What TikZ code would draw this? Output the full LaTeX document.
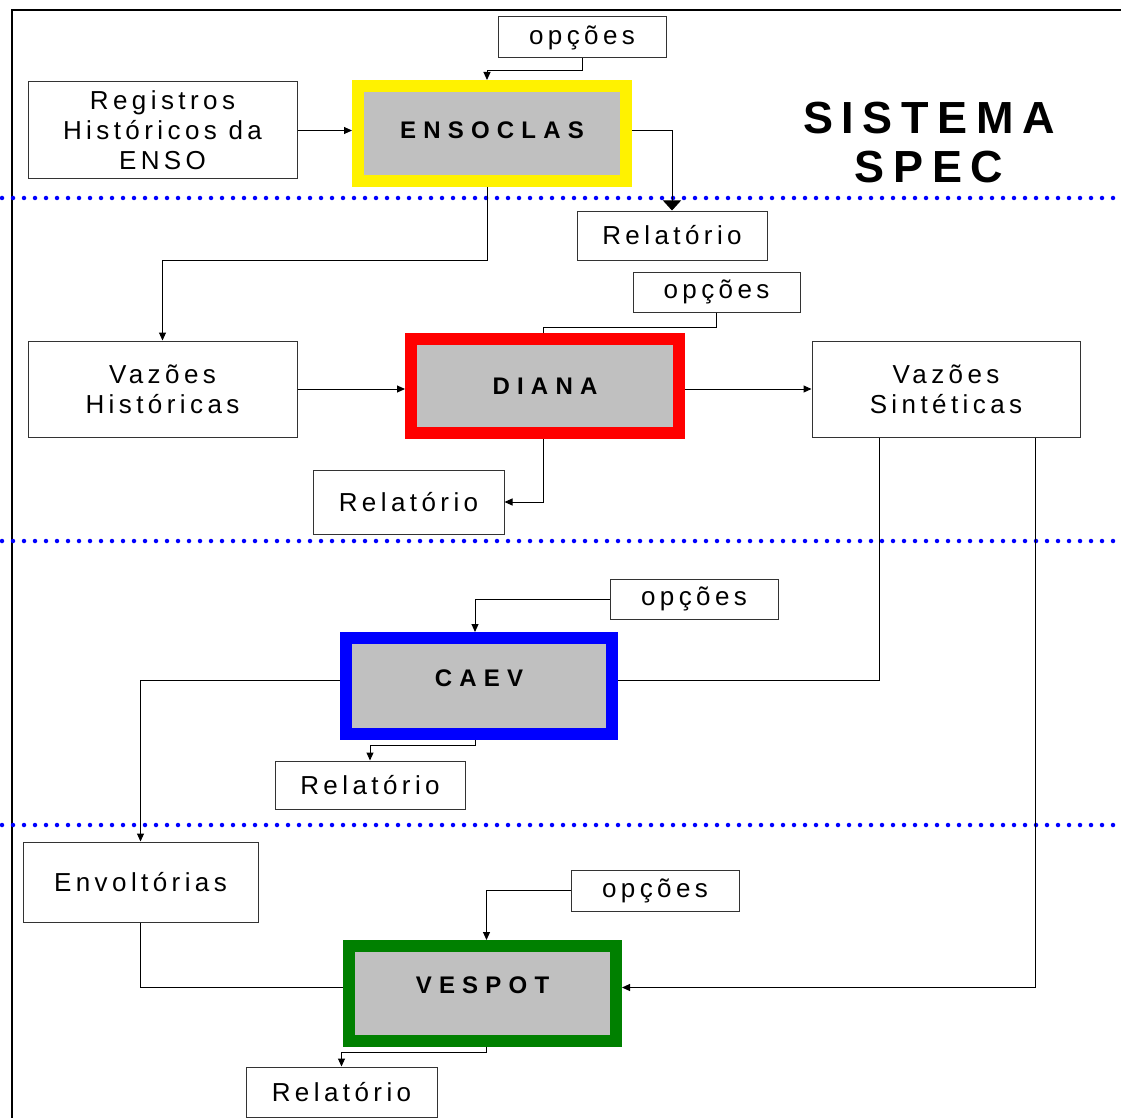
\documentclass[tikz,border=0pt]{standalone}
\usepackage{fontspec}
\setmainfont{Liberation Sans}
\newfontfamily\boxfont[LetterSpace=17]{Liberation Sans}
\newfontfamily\progfont[LetterSpace=30]{Liberation Sans}
\newfontfamily\titlefont[LetterSpace=19]{Liberation Sans}
\usetikzlibrary{arrows.meta}
\definecolor{cinza}{RGB}{192,192,192}
\definecolor{verde}{RGB}{0,128,0}
\begin{document}
\begin{tikzpicture}[x=1pt, y=-1pt, >={Triangle[length=8pt,width=7pt]},
	caixa/.style={draw=black!80, line width=1pt, inner sep=0pt, align=center, font=\boxfont\fontsize{26}{30}\selectfont},
	prog/.style={draw=#1, line width=12pt, fill=cinza, inner sep=0pt, font=\progfont\bfseries\fontsize{24}{28}\selectfont},
	fio/.style={line width=1pt},
	pontos/.style={blue, line width=4.5pt, line cap=round, dash pattern=on 0pt off 11pt}]
	\useasboundingbox (0,0) rectangle (1121,1118);
	\draw[line width=2pt] (12,1118)--(12,10)--(1121,10);
	\foreach \y in {198,541,825} \draw[pontos] (2,\y)--(1121,\y);
	% programas
	\node[prog=yellow, minimum width=268, minimum height=95, text depth=7pt] (ensoclas) at (492,133.5) {ENSOCLAS};
	\node[prog=red, minimum width=268, minimum height=94] (diana) at (545,386) {DIANA};
	\node[prog=blue, minimum width=266, minimum height=96, text depth=16pt] (caev) at (479,686) {CAEV};
	\node[prog=verde, minimum width=267, minimum height=95, text depth=17pt] (vespot) at (482.5,993.5) {VESPOT};
	% caixas
	\node[caixa, minimum width=168, minimum height=41] (opA) at (582,37.5) {opções};
	\node[caixa, minimum width=269, minimum height=97] (reg) at (162.5,130.5) {Registros\\Históricos da\\ENSO};
	\node[caixa, minimum width=190, minimum height=49] (relA) at (672,235.5) {Relatório};
	\node[caixa, minimum width=167, minimum height=40] (opB) at (716.5,292) {opções};
	\node[caixa, minimum width=269, minimum height=96] (vh) at (162.5,389) {Vazões\\Históricas};
	\node[caixa, minimum width=268, minimum height=96] (vs) at (946,389) {Vazões\\Sintéticas};
	\node[caixa, minimum width=191, minimum height=64] (relB) at (408.5,502) {Relatório};
	\node[caixa, minimum width=168, minimum height=40] (opC) at (694,599) {opções};
	\node[caixa, minimum width=190, minimum height=48] (relC) at (370,785) {Relatório};
	\node[caixa, minimum width=235, minimum height=80] (env) at (140.5,882) {Envoltórias};
	\node[caixa, minimum width=168, minimum height=41] (opD) at (655,890.5) {opções};
	\node[caixa, minimum width=191, minimum height=50] (relD) at (341.5,1092) {Relatório};
	\node[font=\titlefont\bfseries\fontsize{45}{49}\selectfont, align=center] (titulo) at (929,143) {SISTEMA\\SPEC};
	% ligacoes
	\draw[fio,->] (opA.south)--++(0,12)-|([xshift=-5pt]ensoclas.north);
	\draw[fio,->] (reg.east)--(reg.east-|ensoclas.west);
	\draw[fio,-{Triangle[length=10pt,width=18pt]}] ([yshift=3pt]ensoclas.east)-|(relA.north);
	\draw[fio,->] ([xshift=-5pt]ensoclas.south)--++(0,73)-|(vh.north);
	\draw[fio,->] (vh.east)--(vh.east-|diana.west);
	\draw[fio] (opB.south)--++(0,15)-|([xshift=-2pt]diana.north);
	\draw[fio,->] (diana.east|-vs.west)--(vs.west);
	\draw[fio,->] ([xshift=-2pt]diana.south)|-(relB.east);
	\draw[fio,->] (opC.west)-|([xshift=-4pt]caev.north);
	\draw[fio,->] ([xshift=-4pt]caev.south)--++(0,5)-|(relC.north);
	\draw[fio,->] ([yshift=6pt]caev.west)-|(env.north);
	\draw[fio] ([xshift=-67pt]vs.south)|-([yshift=6pt]caev.east);
	\draw[fio,->] ([xshift=89pt]vs.south)|-([yshift=6pt]vespot.east);
	\draw[fio] (env.south)|-([yshift=6pt]vespot.west);
	\draw[fio,->] (opD.west)-|([xshift=4pt]vespot.north);
	\draw[fio,->] ([xshift=4pt]vespot.south)--++(0,5)-|(relD.north);
\end{tikzpicture}
\end{document}
